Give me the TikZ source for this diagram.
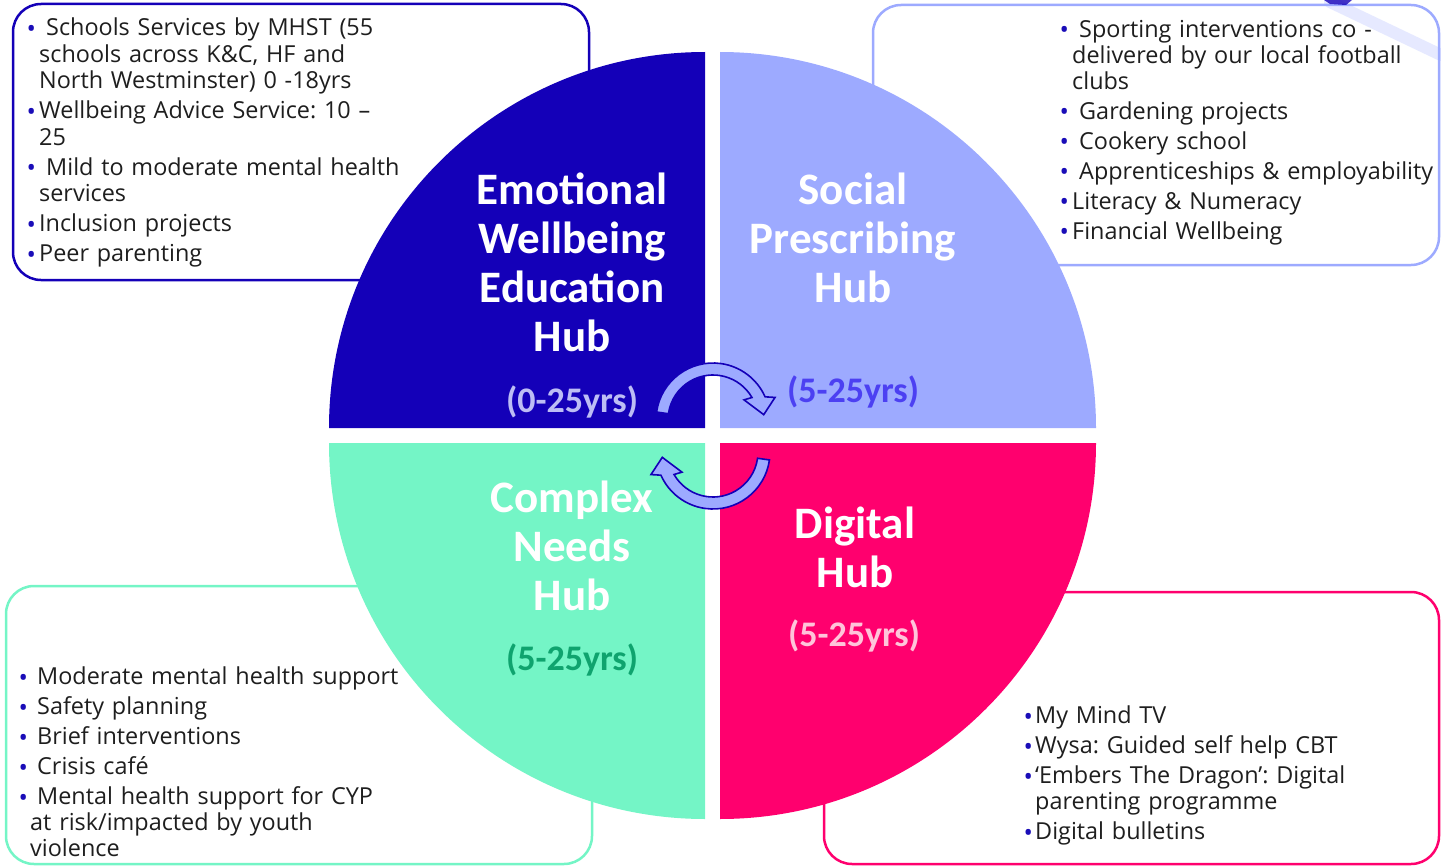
\documentclass[tikz,border=0pt]{standalone}
\usepackage{fontspec}
\setmainfont{Open Sans}
\newfontfamily\hubfont{Carlito}
\usetikzlibrary{calc}
\definecolor{ewb}{HTML}{1400B8}
\definecolor{spb}{HTML}{9DAAFF}
\definecolor{cnh}{HTML}{74F5C6}
\definecolor{dgh}{HTML}{FF006E}
\definecolor{agetl}{HTML}{BDBDF5}
\definecolor{agetr}{HTML}{4C40F2}
\definecolor{agebl}{HTML}{0FA36E}
\definecolor{agebr}{HTML}{FFC4DA}
\definecolor{bodytxt}{HTML}{1E1E1E}
\definecolor{bul}{HTML}{1A0DB8}
\frenchspacing
\newcommand{\bdot}{\raisebox{-1.2pt}{\color{bul}\fontsize{25}{25}\selectfont\textbullet}}
\newcommand{\bfst}[1]{\noindent\hangindent=#1\hangafter=1\makebox[#1][l]{\hspace{-1.5pt}\bdot}}
\newcommand{\bi}[1]{\par\bfst{#1}}
\newcommand{\curvarrow}[3]{%
  \filldraw[arrowst]
    ([shift={(#1,#2)}]172+#3:57pt) arc[start angle=172+#3, end angle=24+#3, radius=57pt]
    -- ([shift={(#1,#2)}]20+#3:66pt)
    -- ([shift={(#1,#2)}]6+#3:51pt)
    -- ([shift={(#1,#2)}]33+#3:37pt)
    -- ([shift={(#1,#2)}]30+#3:45pt) arc[start angle=30+#3, end angle=172+#3, radius=45pt]
    -- cycle;}
\tikzset{
  boxline/.style={line width=2.5pt, rounded corners=28pt, fill=white},
  hubtitle/.style={font=\hubfont\bfseries\fontsize{45}{49}\selectfont, text=white, align=center, inner sep=0pt, anchor=north},
  hubage/.style={font=\hubfont\bfseries\fontsize{36}{40}\selectfont, inner sep=0pt, anchor=base},
  listtext/.style={font=\fontsize{23.4}{26}\selectfont, text=bodytxt, text width=440pt, align=left, inner sep=0pt, anchor=north west},
  arrowst/.style={fill=spb, draw=ewb, line width=1.6pt, line join=miter}
}
\begin{document}
\begin{tikzpicture}[x=1pt,y=-1pt]
\useasboundingbox (0,0) rectangle (1441,867);
% boxes
\draw[boxline, draw=ewb] (13,4) rectangle (589,280);
\draw[boxline, draw=spb] (873,5) rectangle (1439,265);
\draw[boxline, draw=cnh] (6,586) rectangle (592,864);
\draw[boxline, draw=dgh] (824,592) rectangle (1439,864);
% quadrants
\fill[ewb] (705,428) -- (329,428) arc[start angle=180, end angle=90, radius=376pt] -- cycle;
\fill[spb] (720,428) -- (1096,428) arc[start angle=0, end angle=90, radius=376pt] -- cycle;
\fill[cnh] (705,443) -- (329,443) arc[start angle=180, end angle=270, radius=376pt] -- cycle;
\fill[dgh] (720,443) -- (1096,443) arc[start angle=0, end angle=-90, radius=376pt] -- cycle;
% hub titles
\node[hubtitle] (ewbT) at (572,173) {Emotional\\Wellbeing\\Education\\Hub};
\node[hubage, text=agetl] (ewbA) at (572,412) {(0-25yrs)};
\node[hubtitle] (spT) at (853,173) {Social\\Prescribing\\Hub};
\node[hubage, text=agetr] (spA) at (853,402) {(5-25yrs)};
\node[hubtitle] (cnT) at (572,481) {Complex\\Needs\\Hub};
\node[hubage, text=agebl] (cnA) at (572,670) {(5-25yrs)};
\node[hubtitle] (dgT) at (855,507) {Digital\\Hub};
\node[hubage, text=agebr] (dgA) at (854,646) {(5-25yrs)};
% lists
\node[listtext, font=\fontsize{23.4}{26.5}\selectfont] (ewbL) at (28,18) {\setlength{\parskip}{3.5pt}%
\bfst{11pt}\hspace{7pt}Schools Services by MHST (55\newline schools across K\&C, HF and\newline North Westminster) 0 -18yrs
\bi{11pt}Wellbeing Advice Service: 10 –\newline 25
\bi{11pt}\hspace{7pt}Mild to moderate mental health\newline services
\bi{11pt}Inclusion projects
\bi{11pt}Peer parenting\par};
\node[listtext] (spL) at (1061,20) {\setlength{\parskip}{4pt}%
\bfst{11pt}\hspace{7pt}Sporting interventions co -\newline delivered by our local football\newline clubs
\bi{11pt}\hspace{7pt}Gardening projects
\bi{11pt}\hspace{7pt}Cookery school
\bi{11pt}\hspace{7pt}Apprenticeships \& employability
\bi{11pt}Literacy \& Numeracy
\bi{11pt}Financial Wellbeing\par};
\node[listtext] (cnL) at (20,667) {\setlength{\parskip}{4pt}%
\bfst{10pt}\hspace{7pt}Moderate mental health support
\bi{10pt}\hspace{7pt}Safety planning
\bi{10pt}\hspace{7pt}Brief interventions
\bi{10pt}\hspace{7pt}Crisis café
\bi{10pt}\hspace{7pt}Mental health support for CYP\newline at risk/impacted by youth\newline violence\par};
\node[listtext] (dgL) at (1025,706) {\setlength{\parskip}{4pt}%
\bfst{10pt}My Mind TV
\bi{10pt}Wysa: Guided self help CBT
\bi{10pt}‘Embers The Dragon’: Digital\newline parenting programme
\bi{10pt}Digital bulletins\par};
% cycle arrows
\curvarrow{713}{420}{0}
\curvarrow{713}{452}{180}
% faint streak top right
\draw[spb, line width=12pt, opacity=0.25, line cap=round] (1330,2) -- (1441,55);
\fill[ewb, opacity=0.8] (1324,0) -- (1352,0) -- (1346,5) -- (1330,4) -- cycle;
\end{tikzpicture}
\end{document}
